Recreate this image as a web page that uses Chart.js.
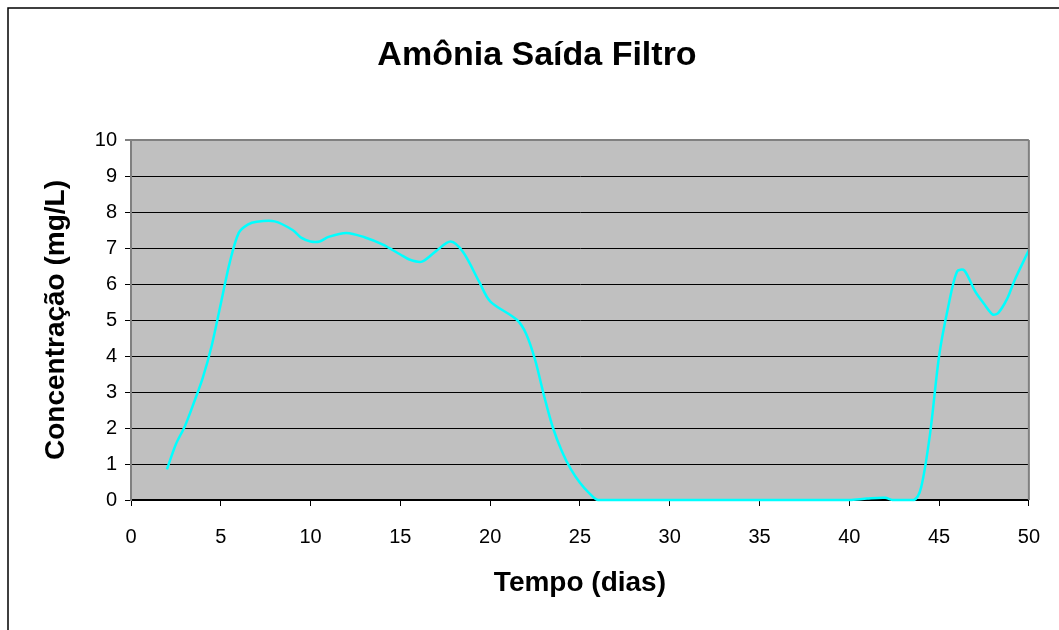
<!DOCTYPE html>
<html>
<head>
<meta charset="utf-8">
<script src="https://cdn.jsdelivr.net/npm/chart.js@4.4.1/dist/chart.umd.min.js"></script>
<style>
    body { margin: 0; background: #fff; }
    #wrap { width: 1059px; height: 630px; position: relative; }
</style>
</head>
<body>
<div id="wrap"><canvas id="amoniaChart"></canvas></div>
<script>
// values
const dias = [2, 2.5, 3, 3.5, 4, 4.5, 5, 5.5, 6, 6.5, 7, 8, 9, 9.5, 10, 10.5, 11, 12, 13, 14, 15, 15.5, 16.2, 17, 17.8, 18.5, 19.4, 20, 21.5, 22, 22.5, 23, 23.5, 24, 24.5, 25, 25.5, 26, 28, 35, 40, 41, 42, 42.4, 43.6, 44, 44.5, 45, 45.5, 46, 46.4, 47, 47.5, 48, 48.3, 48.8, 49.2, 50];
const amonia = [0.85, 1.55, 2.05, 2.7, 3.4, 4.3, 5.45, 6.6, 7.42, 7.65, 7.73, 7.74, 7.5, 7.28, 7.18, 7.18, 7.31, 7.42, 7.3, 7.1, 6.82, 6.68, 6.62, 6.92, 7.18, 6.88, 6.05, 5.52, 5.0, 4.62, 3.9, 2.9, 2.0, 1.35, 0.85, 0.48, 0.2, 0, 0, 0, 0, 0.04, 0.06, 0, 0, 0.35, 1.85, 4.0, 5.35, 6.35, 6.38, 5.8, 5.45, 5.15, 5.2, 5.6, 6.1, 6.94];

const titulo = 'Amônia Saída Filtro';
const tituloX = 'Tempo (dias)';
const tituloY = 'Concentração (mg/L)';

const FONT = "'Liberation Sans', Arial, sans-serif";

// white page, black frame on left/top, grey plot area, grey right border
const framePlugin = {
    id: 'frame',
    beforeDraw(chart) {
        const { ctx, chartArea: a } = chart;
        ctx.save();
        ctx.fillStyle = '#fff';
        ctx.fillRect(0, 0, chart.width, chart.height);
        ctx.strokeStyle = '#000';
        ctx.lineWidth = 1.5;
        ctx.beginPath();
        ctx.moveTo(8, chart.height);
        ctx.lineTo(8, 8);
        ctx.lineTo(chart.width, 8);
        ctx.stroke();
        ctx.fillStyle = '#c0c0c0';
        ctx.fillRect(a.left, a.top, a.right - a.left, a.bottom - a.top);
        ctx.restore();
    },
    afterDraw(chart) {
        const { ctx, chartArea: a } = chart;
        ctx.save();
        ctx.strokeStyle = '#808080';
        ctx.lineWidth = 2;
        ctx.beginPath();
        ctx.moveTo(a.right, a.top);
        ctx.lineTo(a.right, a.bottom);
        ctx.stroke();
        ctx.restore();
    }
};

const points = dias.map((d, i) => ({ x: d, y: amonia[i] }));

new Chart(document.getElementById('amoniaChart'), {
    type: 'line',
    data: {
        datasets: [{
            data: points,
            borderColor: '#00ffff',
            borderWidth: 2.5,
            pointRadius: 0,
            tension: 0.3,
            fill: false,
            clip: { left: 0, top: 0, right: 0, bottom: 2 }
        }]
    },
    options: {
        responsive: true,
        maintainAspectRatio: false,
        animation: false,
        layout: { padding: { left: 44, right: 29, top: 0, bottom: 0 } },
        plugins: {
            legend: { display: false },
            tooltip: { enabled: false },
            title: {
                display: true,
                text: titulo,
                color: '#000',
                font: { family: FONT, size: 34, weight: 'bold' },
                padding: { top: 35.6, bottom: 63.6 }
            }
        },
        scales: {
            x: {
                type: 'linear',
                min: 0,
                max: 50,
                afterFit(scale) { scale.height = 130; },
                ticks: {
                    stepSize: 5,
                    color: '#000',
                    padding: 19,
                    maxRotation: 0,
                    font: { family: FONT, size: 20 }
                },
                grid: {
                    drawOnChartArea: false,
                    drawTicks: true,
                    tickLength: 6,
                    color: '#000'
                },
                border: { display: true, color: '#000', width: 2 },
                title: {
                    display: true,
                    text: tituloX,
                    color: '#000',
                    font: { family: FONT, size: 28, weight: 'bold' },
                    padding: { top: 0, bottom: 30.2 }
                }
            },
            y: {
                min: 0,
                max: 10,
                afterFit(scale) { scale.width = 87; },
                ticks: {
                    stepSize: 1,
                    color: '#000',
                    padding: 8,
                    font: { family: FONT, size: 20 }
                },
                grid: {
                    color: ctx => (ctx.tick && ctx.tick.value === 10) ? '#808080' : '#000',
                    lineWidth: ctx => (ctx.tick && ctx.tick.value === 10) ? 2 : 1,
                    tickLength: 6
                },
                border: { display: true, color: '#808080', width: 2 },
                title: {
                    display: true,
                    text: tituloY,
                    color: '#000',
                    font: { family: FONT, size: 28, weight: 'bold', lineHeight: 0.8 },
                    padding: { top: 0.8, bottom: 0 }
                }
            }
        }
    },
    plugins: [framePlugin]
});
</script>
</body>
</html>
